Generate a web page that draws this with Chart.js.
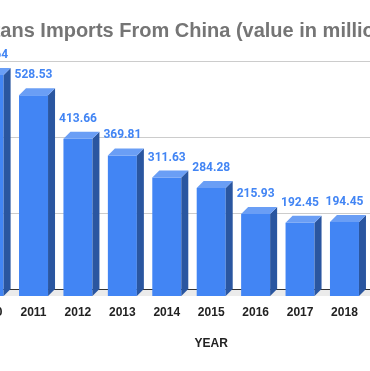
<!DOCTYPE html>
<html lang="en">
<head>
<meta charset="UTF-8">
<title>Imports From China</title>
<script src="https://cdn.jsdelivr.net/npm/chart.js@4.4.0/dist/chart.umd.min.js"></script>
<style>
*{margin:0;padding:0}
html,body{width:370px;height:371px;overflow:hidden;background:#fff}
#wrap{position:relative;width:370px;height:371px;overflow:hidden}
#wrap canvas{position:absolute;top:0}
</style>
</head>
<body>
<div id="wrap"><canvas id="c"></canvas></div>
<script>
// data (2019/2020 slots sit outside the visible crop)
const years = ["2010", "2011", "2012", "2013", "2014", "2015", "2016", "2017", "2018", "2019", "2020"];
const imports = [581.64, 528.53, 413.66, 369.81, 311.63, 284.28, 215.93, 192.45, 194.45, null, null];
const yMin = 0, yMax = 600, yStep = 200;
const titleText = "Turkmenistans Imports From China (value in millions)";
const xTitle = "YEAR";

const H = 371, DEPTH = 7, PAD_L = 10, SLOT = 44.42;
const frontCol = "#4285f4", sideCol = "#2a56a0", topCol = "#6a9ef5", labelBlue = "#4285f4";
const sans = "'Liberation Sans', Arial, sans-serif";

// the reference is a crop: shift the canvas so the title starts at "ans"
const m = document.createElement("canvas").getContext("2d");
m.font = "bold 20px " + sans;
const cut = m.measureText(titleText.slice(0, titleText.indexOf("ans Imports"))).width;
const L = Math.round(PAD_L + cut);
const areaLeft = L - 33.1;
const areaRight = areaLeft + SLOT * years.length;
const W = Math.ceil(areaRight + 30);

const cv = document.getElementById("c");
cv.width = W; cv.height = H;
cv.style.left = -L + "px";
cv.style.width = W + "px"; cv.style.height = H + "px";

const bars3d = {
  id: "bars3d",
  beforeDatasetsDraw(chart) {
    const { ctx, chartArea: a, scales: { y } } = chart;
    const y0 = y.getPixelForValue(0);
    ctx.save();
    ctx.fillStyle = "#ebebeb";
    ctx.beginPath();
    ctx.moveTo(a.left, y0);
    ctx.lineTo(a.left + DEPTH, y0 - DEPTH);
    ctx.lineTo(a.right + DEPTH, y0 - DEPTH);
    ctx.lineTo(a.right, y0);
    ctx.closePath();
    ctx.fill();
    y.ticks.forEach(t => {
      const py = Math.round(y.getPixelForValue(t.value) - DEPTH);
      ctx.fillStyle = t.value === 0 ? "#333333" : "#cccccc";
      ctx.fillRect(a.left + DEPTH, py, a.width, 1);
    });
    ctx.restore();
  },
  afterDatasetsDraw(chart) {
    const { ctx } = chart;
    const vals = chart.data.datasets[0].data;
    ctx.save();
    chart.getDatasetMeta(0).data.forEach((bar, i) => {
      if (vals[i] == null) return;
      const { x, y, base, width } = bar.getProps(["x", "y", "base", "width"], true);
      const l = x - width / 2, r = x + width / 2;
      ctx.fillStyle = sideCol;
      ctx.beginPath();
      ctx.moveTo(r, y); ctx.lineTo(r + DEPTH, y - DEPTH);
      ctx.lineTo(r + DEPTH, base - DEPTH); ctx.lineTo(r, base);
      ctx.closePath(); ctx.fill();
      ctx.fillStyle = topCol;
      ctx.beginPath();
      ctx.moveTo(l, y); ctx.lineTo(l + DEPTH, y - DEPTH);
      ctx.lineTo(r + DEPTH, y - DEPTH); ctx.lineTo(r, y);
      ctx.closePath(); ctx.fill();
      ctx.fillStyle = labelBlue;
      ctx.font = "bold 12px Roboto, sans-serif";
      ctx.textAlign = "center";
      ctx.textBaseline = "middle";
      ctx.fillText(vals[i].toFixed(2), x, y - 20);
    });
    ctx.restore();
  }
};

new Chart(cv, {
  type: "bar",
  data: {
    labels: years,
    datasets: [{ data: imports, backgroundColor: frontCol, borderWidth: 0, barPercentage: 1, categoryPercentage: 0.653 }]
  },
  options: {
    responsive: false, animation: false,
    layout: { padding: { left: PAD_L, right: W - areaRight, top: 0, bottom: 20 } },
    plugins: {
      legend: { display: false },
      tooltip: { enabled: false },
      title: {
        display: true, text: titleText, align: "start", color: "#757575",
        font: { family: sans, size: 20, weight: "bold" },
        padding: { top: 19, bottom: 25 }
      }
    },
    scales: {
      x: {
        grid: { display: false, drawTicks: false }, border: { display: false },
        ticks: { color: "#222222", padding: 9, autoSkip: false, maxRotation: 0, font: { family: sans, size: 12, weight: "bold" } },
        title: { display: true, text: xTitle, color: "#222222", padding: { top: 8.2, bottom: 0 }, font: { family: sans, size: 12, weight: "bold" } }
      },
      y: {
        min: yMin, max: yMax,
        grid: { display: false }, border: { display: false },
        ticks: { stepSize: yStep, color: "#444444", font: { family: sans, size: 12 } },
        afterFit(s) { s.width = areaLeft - PAD_L; }
      }
    }
  },
  plugins: [bars3d]
});
</script>
</body>
</html>
